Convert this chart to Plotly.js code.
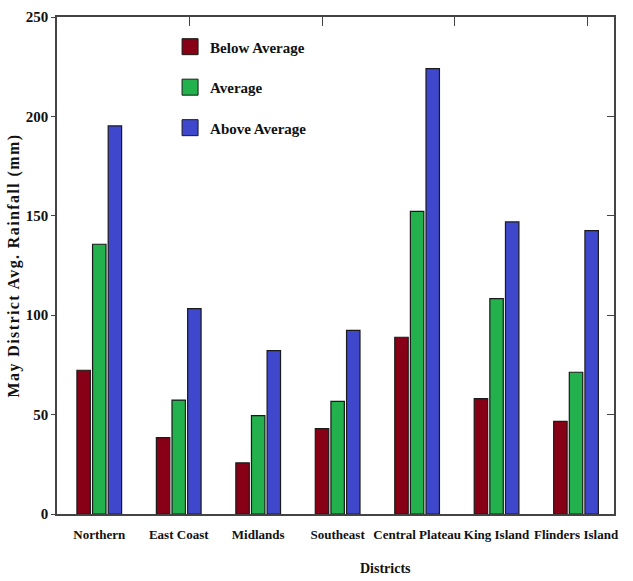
<!DOCTYPE html>
<html>
<head>
<meta charset="utf-8">
<script src="https://cdn.plot.ly/plotly-3.0.1.min.js"></script>
<style>
  html, body { margin: 0; padding: 0; background: #fff; }
  #chart { width: 633px; height: 581px; }
  .g-ytitle text { letter-spacing: 1.4px; }
</style>
</head>
<body>
<div id="chart"></div>
<script>
const districts = ["Northern", "East Coast", "Midlands", "Southeast", "Central Plateau", "King Island", "Flinders Island"];
const seriesNames = ["Below Average", "Average", "Above Average"];
const belowAverage = [72.3, 38.4, 25.7, 42.9, 88.9, 58.0, 46.6];
const average = [135.7, 57.3, 49.5, 56.7, 152.2, 108.3, 71.3];
const aboveAverage = [195.2, 103.3, 82.2, 92.4, 224.0, 146.9, 142.5];
const seriesColors = ["#880015", "#22B14C", "#3F48CC"];
const yTicks = [0, 50, 100, 150, 200, 250];

const FONT = "Liberation Serif, Times New Roman, serif";
const seriesValues = [belowAverage, average, aboveAverage];

const traces = [];
seriesValues.forEach((vals, i) => {
  traces.push({
    type: "bar",
    name: seriesNames[i],
    x: districts,
    y: vals,
    marker: { color: seriesColors[i], line: { color: "#1a1a1a", width: 1.2 } },
    showlegend: false,
    hoverinfo: "x+y+name"
  });
});
// legend entries (bigger square swatches)
seriesNames.forEach((nm, i) => {
  traces.push({
    type: "scatter",
    mode: "markers",
    name: nm,
    x: [null],
    y: [null],
    xaxis: "x2",
    yaxis: "y2",
    legendgroup: "g" + i,
    marker: { symbol: "square", size: 16, color: seriesColors[i], line: { color: "#1a1a1a", width: 1 } },
    showlegend: true
  });
});

const axisLine = "#444";
const layout = {
  width: 633,
  height: 581,
  margin: { l: 57, r: 19, t: 17, b: 67 },
  paper_bgcolor: "#fff",
  plot_bgcolor: "#fff",
  font: { family: FONT, size: 14, color: "#111", weight: 700 },
  barmode: "group",
  bargap: 0.41,
  bargroupgap: 0.14,
  showlegend: true,
  legend: {
    x: 0.203, xanchor: "left",
    y: 0.973, yanchor: "top",
    bgcolor: "rgba(0,0,0,0)",
    borderwidth: 0,
    itemwidth: 30,
    tracegroupgap: 18,
    font: { family: FONT, size: 15, color: "#111", weight: 700 }
  },
  xaxis: {
    type: "category",
    range: [-0.532, 6.478],
    showline: true, linecolor: axisLine, linewidth: 1.5,
    ticks: "", showgrid: false, zeroline: false,
    tickangle: 0,
    ticklabelstandoff: 8,
    tickfont: { family: FONT, size: 13, color: "#111", weight: 700 }
  },
  xaxis2: {
    overlaying: "x", side: "top", anchor: "y",
    type: "linear", range: [0, 4.2], dtick: 1, tick0: 0,
    showline: true, linecolor: axisLine, linewidth: 1.5,
    ticks: "inside", ticklen: 9, tickcolor: axisLine, tickwidth: 1.2,
    showticklabels: false, showgrid: false, zeroline: false
  },
  yaxis: {
    range: [0, 250],
    tickvals: yTicks,
    showline: true, linecolor: axisLine, linewidth: 1.5,
    ticks: "outside", ticklen: 4, tickcolor: axisLine, tickwidth: 1.2,
    showgrid: false, zeroline: false,
    tickfont: { family: FONT, size: 15, color: "#111", weight: 700 },
    title: { text: "May District Avg. Rainfall (mm)", standoff: 2, font: { family: FONT, size: 16, color: "#111", weight: 700 } }
  },
  yaxis2: {
    overlaying: "y", side: "right", anchor: "x",
    range: [0, 250], tickvals: yTicks,
    showline: true, linecolor: axisLine, linewidth: 1.5,
    ticks: "inside", ticklen: 7, tickcolor: axisLine, tickwidth: 1.2,
    showticklabels: false, showgrid: false, zeroline: false
  },
  annotations: [{
    text: "Districts",
    xref: "paper", yref: "paper",
    x: 0.589, y: -0.109,
    xanchor: "center", yanchor: "middle",
    showarrow: false,
    font: { family: FONT, size: 14, color: "#111", weight: 700 }
  }]
};

Plotly.newPlot("chart", traces, layout, { displayModeBar: false, responsive: false });
</script>
</body>
</html>
